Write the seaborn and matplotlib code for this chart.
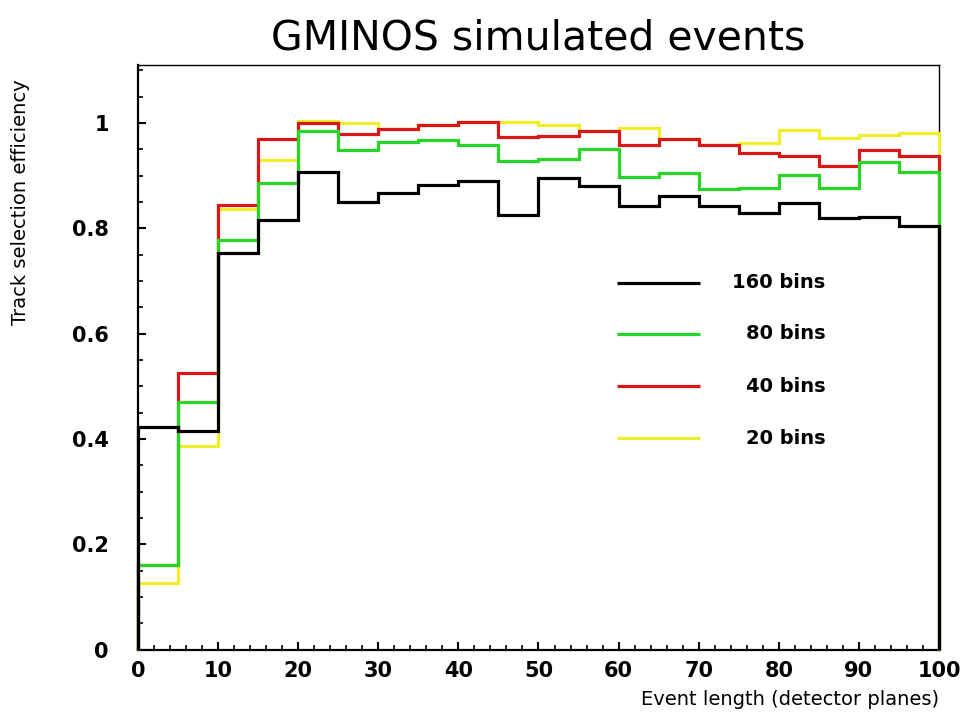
import numpy as np
import pandas as pd
import matplotlib
matplotlib.use("Agg")
import matplotlib.pyplot as plt
import seaborn as sns

# ---- data ----
bin_edges = [0, 5, 10, 15, 20, 25, 30, 35, 40, 45, 50, 55, 60, 65, 70, 75, 80, 85, 90, 95, 100]
series_names = ["20 bins", "40 bins", "80 bins", "160 bins"]
eff_160 = [0.423, 0.415, 0.753, 0.816, 0.906, 0.850, 0.866, 0.883, 0.890, 0.826,
           0.896, 0.880, 0.842, 0.861, 0.842, 0.829, 0.848, 0.819, 0.822, 0.804]
eff_80 = [0.160, 0.470, 0.777, 0.886, 0.984, 0.948, 0.963, 0.967, 0.958, 0.927,
          0.932, 0.951, 0.897, 0.905, 0.875, 0.876, 0.902, 0.877, 0.926, 0.907]
eff_40 = [0.160, 0.526, 0.845, 0.970, 1.000, 0.979, 0.988, 0.996, 1.002, 0.974,
          0.975, 0.985, 0.958, 0.969, 0.959, 0.942, 0.937, 0.918, 0.948, 0.937]
eff_20 = [0.127, 0.386, 0.836, 0.929, 1.003, 1.000, 0.988, 0.996, 1.002, 1.002,
          0.997, 0.985, 0.991, 0.969, 0.959, 0.961, 0.986, 0.972, 0.977, 0.981]
series_values = {"20 bins": eff_20, "40 bins": eff_40, "80 bins": eff_80, "160 bins": eff_160}
colors = {"20 bins": "#eeee2a", "40 bins": "#d81818", "80 bins": "#28d428", "160 bins": "#000000"}
legend_order = ["160 bins", "80 bins", "40 bins", "20 bins"]

# ---- build step outlines (closed down to zero at both ends, like ROOT) ----
edges = np.asarray(bin_edges, dtype=float)
rows = []
for name in series_names:
    vals = np.asarray(series_values[name], dtype=float)
    xs = np.r_[edges[0], edges[:-1], edges[-1]]
    ys = np.r_[0.0, vals, 0.0]
    for i, (xv, yv) in enumerate(zip(xs, ys)):
        rows.append({"x": xv, "y": yv, "series": name, "order": i})
df = pd.DataFrame(rows)

sns.set_style("white")
plt.rcParams["font.family"] = ["DejaVu Sans"]
plt.rcParams["text.color"] = "black"
plt.rcParams["axes.labelcolor"] = "black"
plt.rcParams["xtick.color"] = "black"
plt.rcParams["ytick.color"] = "black"

fig = plt.figure(figsize=(9.68, 7.24), dpi=100)
ax = fig.add_axes([0.1426, 0.1029, 0.8274, 0.8073])

sns.lineplot(data=df, x="x", y="y", hue="series", hue_order=series_names,
             palette=colors, estimator=None, sort=False, legend=False,
             drawstyle="steps-post", linewidth=2.3, zorder=3, ax=ax,
             solid_joinstyle="miter", solid_capstyle="butt")
for ln in ax.get_lines():
    ln.set_clip_on(False)

ax.set_xlim(0, 100)
ax.set_ylim(0, 1.11)
ax.set_xticks(np.arange(0, 101, 10))
ax.set_xticks(np.arange(0, 101, 2), minor=True)
ax.set_yticks(np.arange(0, 1.01, 0.2))
ax.set_yticks(np.arange(0, 1.11, 0.05), minor=True)
ax.set_yticklabels(["0", "0.2", "0.4", "0.6", "0.8", "1"])
ax.tick_params(axis="both", which="major", direction="in", length=6, width=1.5,
               bottom=True, left=True, top=False, right=False, labelsize=15,
               colors="black", labelcolor="black")
ax.tick_params(axis="both", which="minor", direction="in", length=3.5, width=1.2,
               bottom=True, left=True, top=False, right=False)
ax.tick_params(axis="y", which="major", pad=21)
ax.tick_params(axis="x", which="major", pad=8)
for lab in ax.get_xticklabels() + ax.get_yticklabels():
    lab.set_fontweight("bold")

for side in ["left", "bottom"]:
    ax.spines[side].set_linewidth(1.6)
for side in ["top", "right"]:
    ax.spines[side].set_linewidth(1.0)
for sp in ax.spines.values():
    sp.set_color("black")

ax.set_xlabel("Event length (detector planes)", fontsize=14, loc="right", labelpad=7,
              color="black")
ax.set_ylabel("Track selection efficiency", fontsize=14, loc="top", color="black")
ax.yaxis.set_label_coords(-0.135, 0.975)
ax.set_title("GMINOS simulated events", fontsize=29.5, pad=11, color="black")

# ---- legend (ROOT-like: lines then right-aligned labels) ----
leg_y = [0.6275, 0.5398, 0.4508, 0.3613]
for name, yy in zip(legend_order, leg_y):
    ax.plot([0.598, 0.702], [yy, yy], transform=ax.transAxes, color=colors[name],
            linewidth=2.3, solid_capstyle="butt", clip_on=False, zorder=4)
    ax.text(0.858, yy, name, transform=ax.transAxes, ha="right", va="center",
            fontsize=14, fontweight="bold", color="black")

fig.savefig("out.png", dpi=100)
